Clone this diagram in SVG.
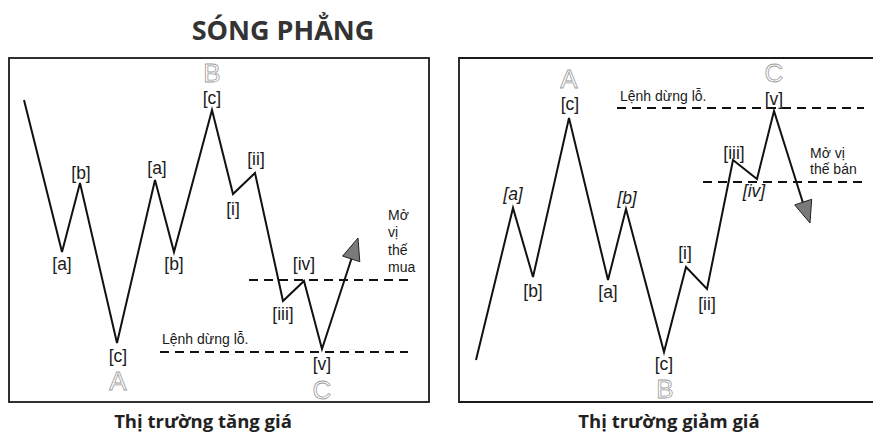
<svg xmlns="http://www.w3.org/2000/svg" width="873" height="434" viewBox="0 0 873 434">
<style>
.frame{fill:none;stroke:#1a1a1a;stroke-width:1.8}
.wave{fill:none;stroke:#111;stroke-width:2;stroke-linejoin:miter}
.dash{fill:none;stroke:#111;stroke-width:2;stroke-dasharray:9 6}
.head{fill:#7a7a7a;stroke:#222;stroke-width:1}
.lbl{font-family:"Liberation Sans",Arial,sans-serif;font-size:17.5px;fill:#1a1a1a;text-anchor:middle}
.it{font-style:italic}
.big{font-family:"Liberation Sans",Arial,sans-serif;font-size:26px;fill:#fff;stroke:#9a9a9a;stroke-width:0.8;text-anchor:middle}
.note{font-family:"Liberation Sans",Arial,sans-serif;font-size:14px;fill:#1a1a1a}
.title{font-family:"Open Sans","Noto Sans",sans-serif;font-weight:bold;font-size:27px;fill:#333;text-anchor:middle}
.cap{font-family:"Open Sans","Noto Sans",sans-serif;font-weight:bold;font-size:18.5px;fill:#222;text-anchor:middle}
</style>
<rect width="873" height="434" fill="#fff"/>
<text class="title" x="283" y="40">SÓNG PHẲNG</text>

<g id="panel-bull">
<rect class="frame" x="9" y="58" width="420" height="344"/>
<g id="connectors-bull">
<polyline class="wave" points="24,100 62,252 80,183 117,343 155,180 174,252 212,110 233,194 255,173 283,301 304,281 322,349 352,257"/>
<polygon class="head" points="358,238 342.6,256.1 359.8,261.7"/>
<line class="dash" x1="249" y1="280" x2="412" y2="280"/>
<line class="dash" x1="160" y1="352" x2="408" y2="352"/>
</g>
<g id="labels-bull">
<text class="lbl" x="62" y="269.5">[a]</text>
<text class="lbl" x="81" y="178.5">[b]</text>
<text class="lbl" x="118" y="361.5">[c]</text>
<text class="big" x="118" y="390">A</text>
<text class="lbl" x="157" y="173.5">[a]</text>
<text class="lbl" x="174" y="269.5">[b]</text>
<text class="lbl" x="212" y="104">[c]</text>
<text class="big" x="212" y="82">B</text>
<text class="lbl" x="233" y="214.5">[i]</text>
<text class="lbl" x="256" y="164.5">[ii]</text>
<text class="lbl" x="283" y="319.5">[iii]</text>
<text class="lbl" x="304" y="269.5">[iv]</text>
<text class="lbl" x="322" y="370">[v]</text>
<text class="big" x="322" y="399">C</text>
<text class="note" x="388" y="220">Mở</text>
<text class="note" x="388" y="237">vị</text>
<text class="note" x="388" y="255">thế</text>
<text class="note" x="388" y="272">mua</text>
<text class="note" x="162" y="344">Lệnh dừng lỗ.</text>
</g>
<text class="cap" x="203" y="428">Thị trường tăng giá</text>
</g>

<g id="panel-bear">
<polyline class="frame" points="873,58 459,58 459,402 873,402"/>
<g id="connectors-bear">
<polyline class="wave" points="476,360 513,208 533,277 569,118 608,280 626,209 664,352 686,267 707,289 733,160 757,179 774,111 803,203"/>
<polygon class="head" points="810,223 811.7,199.3 794.7,204.9"/>
<line class="dash" x1="617" y1="108" x2="864" y2="108"/>
<line class="dash" x1="703" y1="182" x2="864" y2="182"/>
</g>
<g id="labels-bear">
<text class="big" x="569" y="88">A</text>
<text class="lbl" x="570" y="110">[c]</text>
<text class="big" x="774" y="82">C</text>
<text class="lbl" x="774" y="105">[v]</text>
<text class="lbl it" x="513" y="199.5">[a]</text>
<text class="lbl" x="533" y="296.5">[b]</text>
<text class="lbl it" x="627" y="203.5">[b]</text>
<text class="lbl" x="608" y="297.5">[a]</text>
<text class="lbl" x="664" y="369.5">[c]</text>
<text class="big" x="665" y="398">B</text>
<text class="lbl" x="685" y="258.5">[i]</text>
<text class="lbl" x="707" y="309.5">[ii]</text>
<text class="lbl" x="734" y="158.5">[iii]</text>
<text class="lbl it" x="754" y="196.5">[iv]</text>
<text class="note" x="620" y="101">Lệnh dừng lỗ.</text>
<text class="note" x="810" y="158">Mở vị</text>
<text class="note" x="810" y="174">thế bán</text>
</g>
<text class="cap" x="669" y="428">Thị trường giảm giá</text>
</g>
</svg>
